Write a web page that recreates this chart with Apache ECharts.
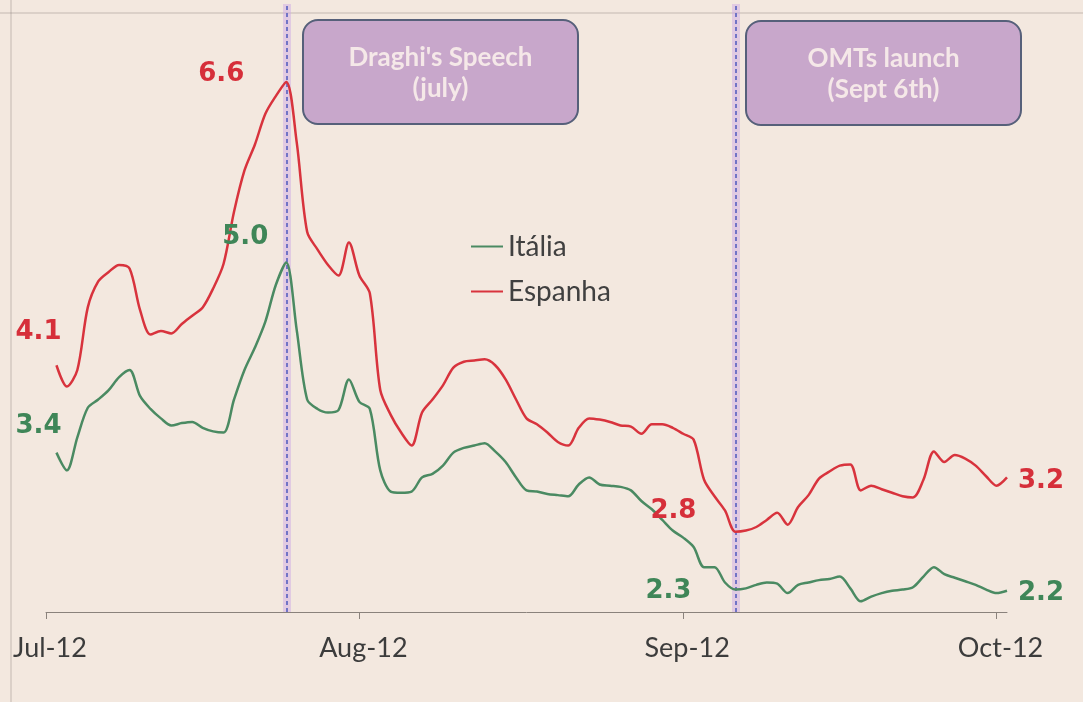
<!DOCTYPE html>
<html>
<head>
<meta charset="utf-8">
<script src="https://cdn.jsdelivr.net/npm/echarts@6/dist/echarts.min.js"></script>
<style>
html,body{margin:0;padding:0;background:#f3e8df;}
#chart{width:1083px;height:702px;}
</style>
</head>
<body>
<div id="chart"></div>
<script>
// ---- data ----
const dates = [
'2012-07-03','2012-07-04','2012-07-05','2012-07-06','2012-07-07','2012-07-08','2012-07-09','2012-07-10','2012-07-11','2012-07-12',
'2012-07-13','2012-07-14','2012-07-15','2012-07-16','2012-07-17','2012-07-18','2012-07-19','2012-07-20','2012-07-21','2012-07-22',
'2012-07-23','2012-07-24','2012-07-25','2012-07-26','2012-07-27','2012-07-28','2012-07-29','2012-07-30','2012-07-31',
'2012-08-01','2012-08-02','2012-08-03','2012-08-04','2012-08-05','2012-08-06','2012-08-07','2012-08-08','2012-08-09','2012-08-10',
'2012-08-11','2012-08-12','2012-08-13','2012-08-14','2012-08-15','2012-08-16','2012-08-17','2012-08-18','2012-08-19','2012-08-20',
'2012-08-21','2012-08-22','2012-08-23','2012-08-24','2012-08-25','2012-08-26','2012-08-27','2012-08-28','2012-08-29','2012-08-30','2012-08-31',
'2012-09-01','2012-09-02','2012-09-03','2012-09-04','2012-09-05','2012-09-06','2012-09-07','2012-09-08','2012-09-09','2012-09-10',
'2012-09-11','2012-09-12','2012-09-13','2012-09-14','2012-09-15','2012-09-16','2012-09-17','2012-09-18','2012-09-19','2012-09-20',
'2012-09-21','2012-09-22','2012-09-23','2012-09-24','2012-09-25','2012-09-26','2012-09-27','2012-09-28','2012-09-29','2012-09-30',
'2012-10-01','2012-10-02'
];
const italia = [
3.40,3.25,3.53,3.78,3.85,3.93,4.04,4.10,3.88,3.77,
3.69,3.63,3.65,3.66,3.61,3.58,3.57,3.85,4.10,4.29,
4.51,4.82,5.01,4.44,3.85,3.77,3.74,3.76,4.02,3.83,
3.77,3.25,3.07,3.06,3.07,3.19,3.22,3.29,3.40,3.44,
3.46,3.48,3.41,3.32,3.19,3.08,3.07,3.05,3.04,3.03,
3.13,3.19,3.13,3.12,3.11,3.08,2.99,2.92,2.83,2.74,
2.68,2.60,2.43,2.43,2.30,2.24,2.25,2.28,2.30,2.29,
2.21,2.28,2.30,2.32,2.33,2.35,2.25,2.14,2.18,2.21,
2.23,2.24,2.26,2.35,2.43,2.37,2.34,2.31,2.28,2.24,
2.21,2.23
];
const espanha = [
4.14,3.96,4.10,4.63,4.85,4.93,4.99,4.96,4.61,4.40,
4.43,4.41,4.49,4.56,4.63,4.79,5.00,5.44,5.79,6.01,
6.27,6.42,6.54,6.03,5.27,5.12,4.99,4.90,5.18,4.90,
4.75,3.93,3.72,3.57,3.46,3.74,3.85,3.97,4.12,4.17,
4.18,4.19,4.14,4.02,3.85,3.69,3.64,3.57,3.49,3.46,
3.61,3.69,3.68,3.66,3.63,3.62,3.56,3.64,3.64,3.61,
3.56,3.51,3.17,3.03,2.91,2.73,2.74,2.77,2.83,2.89,
2.79,2.94,3.04,3.18,3.24,3.29,3.30,3.08,3.12,3.09,
3.06,3.03,3.02,3.17,3.41,3.32,3.38,3.35,3.29,3.20,
3.12,3.19
];
const axisStart = '2012-07-02', axisEnd = '2012-10-02';
const tickDates = ['2012-07-02','2012-08-01','2012-09-01','2012-10-01'];
const tickLabels = ['Jul-12','Aug-12','Sep-12','Oct-12'];
const eventDates = ['2012-07-25','2012-09-06'];
const eventTexts = ["Draghi's Speech\n(july)", "OMTs launch\n(Sept 6th)"];
const labelDates = ['2012-07-03','2012-07-25','2012-09-06','2012-10-02'];
const labelsEspanha = ['4.1','6.6','2.8','3.2'];
const labelsItalia = ['3.4','5.0','2.3','2.2'];

// ---- styling ----
const RED = '#d8333d', GREEN = '#4a8a62';
const redLabelColor = '#d62f3a', greenLabelColor = '#3f8658';
const offsetsEsp = [[-18,-33],[-65,-8],[-62,-20],[34,4]];
const offsetsIta = [[-18,-26],[-41,-25],[-67,2],[34,3]];

const T = s => Date.UTC(+s.slice(0,4), +s.slice(5,7)-1, +s.slice(8,10));
const tickVals = tickDates.map(T);

function pairs(vals){ return dates.map((d,i)=>[T(d), vals[i]]); }
function marks(vals, texts, offs, color){
  return labelDates.map((d,i)=>({
    coord:[T(d), vals[dates.indexOf(d)]],
    symbol:'circle', symbolSize:1,
    itemStyle:{color:'rgba(0,0,0,0)'},
    label:{show:true, formatter:texts[i], offset:offs[i], position:'inside',
      color:color, fontFamily:'DejaVu Sans', fontWeight:'bold', fontSize:26}
  }));
}

const chart = echarts.init(document.getElementById('chart'), null, {renderer:'canvas'});

const boxes = [{x:303,y:20},{x:746,y:21}];
const graphics = [
  {type:'line', shape:{x1:0,y1:13,x2:1083,y2:13}, style:{stroke:'rgba(125,115,110,0.4)', lineWidth:1}, silent:true, z:0},
  {type:'line', shape:{x1:11,y1:0,x2:11,y2:702}, style:{stroke:'rgba(125,115,110,0.4)', lineWidth:1}, silent:true, z:0}
];
boxes.forEach((b,i)=>{
  graphics.push({type:'group', x:b.x, y:b.y, z:10, children:[
    {type:'rect', shape:{x:0,y:0,width:275,height:104,r:15},
      style:{fill:'#c8a7cb', stroke:'#56607a', lineWidth:2}},
    {type:'text', x:137.5, y:53, style:{text:eventTexts[i], fill:'#f5e8e8',
      font:'bold 26px Lato', align:'center', verticalAlign:'middle', lineHeight:31}}
  ]});
});

chart.setOption({
  backgroundColor:'#f3e8df',
  animation:false,
  grid:{left:46, right:76, top:4, bottom:90, containLabel:false},
  legend:{
    orient:'vertical', left:466, top:226, itemWidth:32, itemHeight:2, itemGap:14,
    icon:'rect',
    textStyle:{fontFamily:'Lato', fontSize:28, color:'#404040', lineHeight:31},
    data:['Itália','Espanha']
  },
  xAxis:{
    type:'value', min:T(axisStart), max:T(axisEnd),
    axisLine:{show:true, lineStyle:{color:'#8a827c', width:1}},
    axisTick:{show:true, customValues:tickVals, length:7, lineStyle:{color:'#8a827c'}},
    axisLabel:{customValues:tickVals, margin:23, padding:[0,0,0,8],
      fontFamily:'Lato', fontSize:27, color:'#3c3c3c',
      formatter:function(v){ const i = tickVals.indexOf(v); return i>=0 ? tickLabels[i] : ''; }},
    splitLine:{show:false}
  },
  yAxis:{type:'value', min:2.05, max:7.2, show:false, splitLine:{show:false}},
  graphic:graphics,
  series:[
    {name:'Itália', type:'line', data:pairs(italia), showSymbol:false, smooth:0.3,
      lineStyle:{color:GREEN, width:2.5}, itemStyle:{color:GREEN}, z:3,
      markPoint:{data:marks(italia, labelsItalia, offsetsIta, greenLabelColor)}},
    {name:'Espanha', type:'line', data:pairs(espanha), showSymbol:false, smooth:0.3,
      lineStyle:{color:RED, width:2.5}, itemStyle:{color:RED}, z:3,
      markPoint:{data:marks(espanha, labelsEspanha, offsetsEsp, redLabelColor)},
      markLine:{silent:true, symbol:['none','none'], label:{show:false}, z:1,
        data:[].concat(
          eventDates.map(d=>({xAxis:T(d), lineStyle:{color:'rgba(208,172,230,0.5)', width:8, type:'solid'}})),
          eventDates.map(d=>({xAxis:T(d), lineStyle:{color:'#7174c6', width:2, type:[4,3]}}))
        )}}
  ]
});
</script>
</body>
</html>
